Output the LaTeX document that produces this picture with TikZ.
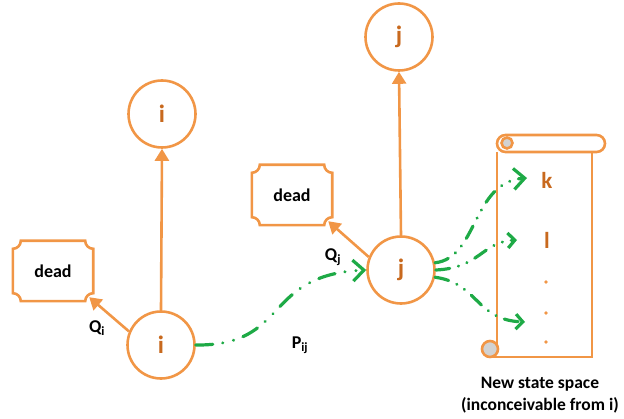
\documentclass[tikz,border=0pt]{standalone}
\usepackage{fontspec}
\setmainfont{Carlito}
\usetikzlibrary{arrows.meta}
\definecolor{org}{RGB}{241,150,70}
\definecolor{dorg}{RGB}{200,105,30}
\definecolor{grn}{RGB}{30,170,70}
\newcommand\plaque[1]{%
  \draw[orgline] ([xshift=8pt]#1.north west) -- ([xshift=-8pt]#1.north east) arc (180:270:8pt)
    -- ([yshift=8pt]#1.south east) arc (90:180:8pt)
    -- ([xshift=8pt]#1.south west) arc (0:90:8pt)
    -- ([yshift=-8pt]#1.north west) arc (270:360:8pt) -- cycle;}
\begin{document}
\begin{tikzpicture}[x=1pt,y=1pt,
  orgline/.style={draw=org,line width=2.6pt},
  state/.style={circle,draw=org,line width=2.6pt,minimum size=67pt,inner sep=0pt,
    font=\bfseries\fontsize{25}{25}\selectfont,text=dorg},
  deadbox/.style={minimum width=80pt,minimum height=60pt,inner sep=0pt,
    font=\bfseries\fontsize{18}{18}\selectfont},
  oarrow/.style={org,line width=2.6pt,-{Triangle[length=12pt,width=14pt]}},
  garrow/.style={grn,line width=3.2pt,line cap=round,
    dash pattern=on 17pt off 10pt on 0.1pt off 11pt on 0.1pt off 10pt,
    -{Straight Barb[length=11pt,width=21pt,line width=3.2pt]}},
  lbl/.style={font=\bfseries\fontsize{18}{18}\selectfont},
  sym/.style={font=\bfseries\fontsize{23}{23}\selectfont,text=dorg},
  captext/.style={font=\bfseries\fontsize{17.5}{17.5}\selectfont}]
\useasboundingbox (0,0) rectangle (624,418);
% states
\node[state] (iTop) at (162,304) {i};
\node[state] (iBot) at (161,73) {i};
\node[state] (jTop) at (399,381) {j};
\node[state] (jMid) at (401,148) {j};
% dead boxes
\node[deadbox] (dead1) at (53,147) {dead};
\node[deadbox] (dead2) at (292,223) {dead};
\plaque{dead1}
\plaque{dead2}
\coordinate (d1c) at ([shift={(-4pt,4pt)}]dead1.south east);
\coordinate (d2c) at ([shift={(-4pt,4pt)}]dead2.south east);
% orange arrows
\draw[oarrow] (iBot.north) -- (iTop.south);
\draw[oarrow] (jMid.north) -- (jTop.south);
\draw[oarrow] (iBot.157) -- (d1c);
\draw[oarrow] (jMid.158) -- (d2c);
% labels
\node[lbl] (qi) at (97,90) {Q\textsubscript{i}};
\node[lbl] (qj) at (333,161) {Q\textsubscript{j}};
\node[lbl] (pij) at (300,73) {P\textsubscript{ij}};
% scroll
\draw[orgline,rounded corners=8.5pt] (497,266) rectangle (605,283);
\draw[orgline] (497,266) -- (497,69);
\draw[orgline] (592,266) -- (592,61) -- (490,61);
\draw[orgline,fill=gray!35] (490,69) circle (8pt);
\draw[orgline,fill=gray!35] (507,275) circle (5.5pt);
\node[sym] (k) at (547,238) {k};
\node[sym] (l) at (547,178) {l};
\fill[org] (546,136) circle (1.9pt) (546,105) circle (1.9pt) (546,76) circle (1.9pt);
\node[captext] (c1) at (540,34) {New state space};
\node[captext] (c2) at (540,13) {(inconceivable from i)};
\coordinate (ek) at (527,240);
\coordinate (el) at (517,178);
\coordinate (eb) at (525,96);
% green arrows
\draw[garrow] (iBot.east) .. controls (290,72) and (262,143) .. (jMid.west);
\draw[garrow,dash pattern=on 14pt off 9pt on 0.1pt off 9pt on 0.1pt off 9pt]
  (jMid.12) .. controls (478,160) and (472,236) .. (ek);
\draw[garrow,dash pattern=on 14pt off 9pt on 0.1pt off 9pt on 0.1pt off 9pt,
  -{Straight Barb[length=7pt,width=15pt,line width=3.2pt]}]
  (jMid.east) .. controls (480,150) and (482,176) .. (el);
\draw[garrow,dash pattern=on 14pt off 9pt on 0.1pt off 9pt on 0.1pt off 9pt,
  -{Straight Barb[length=7pt,width=15pt,line width=3.2pt]}]
  (jMid.-12) .. controls (478,135) and (476,98) .. (eb);
\end{tikzpicture}
\end{document}
